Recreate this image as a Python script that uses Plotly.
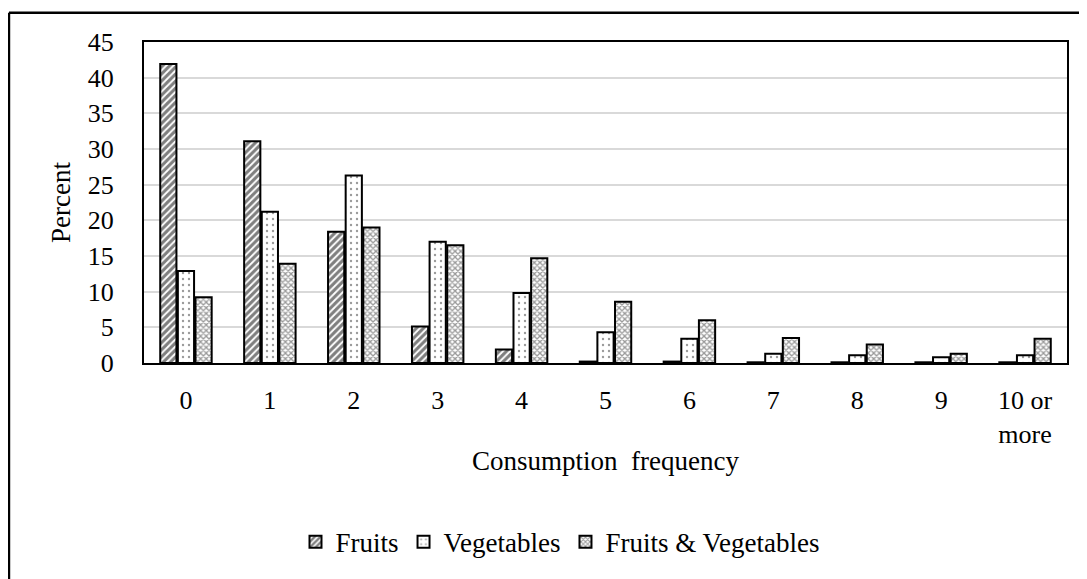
import plotly.graph_objects as go

categories = ["0", "1", "2", "3", "4", "5", "6", "7", "8", "9", "10 or<br>more"]
fruits = [41.9, 31.1, 18.4, 5.1, 1.9, 0.2, 0.2, 0.1, 0.1, 0.1, 0.1]
vegetables = [12.9, 21.2, 26.3, 17.0, 9.8, 4.3, 3.4, 1.3, 1.1, 0.8, 1.1]
fruits_veg = [9.2, 13.9, 19.0, 16.5, 14.7, 8.6, 6.0, 3.5, 2.6, 1.3, 3.4]
y_ticks = [0, 5, 10, 15, 20, 25, 30, 35, 40, 45]

FONT = "Liberation Serif"
FS = 26

fig = go.Figure()
fig.add_trace(go.Bar(
    name="Fruits", x=categories, y=fruits,
    marker=dict(color="white", line=dict(color="black", width=2),
                pattern=dict(shape="/", fgcolor="black", bgcolor="white", size=5, solidity=0.62)),
))
fig.add_trace(go.Bar(
    name="Vegetables", x=categories, y=vegetables,
    marker=dict(color="white", line=dict(color="black", width=2),
                pattern=dict(shape=".", fgcolor="#333333", bgcolor="white", size=6, solidity=0.12)),
))
fig.add_trace(go.Bar(
    name="Fruits & Vegetables", x=categories, y=fruits_veg,
    marker=dict(color="white", line=dict(color="black", width=2),
                pattern=dict(shape="x", fgcolor="#333333", bgcolor="white", size=4, solidity=0.55)),
))

fig.update_layout(
    width=1079, height=571,
    margin=dict(l=136, r=20, t=34, b=207),
    paper_bgcolor="white", plot_bgcolor="white",
    barmode="group", bargap=0.37, bargroupgap=0.08,
    font=dict(family=FONT, size=FS, color="black"),
    showlegend=True,
    legend=dict(orientation="h", x=0.4507, xanchor="center", y=-0.482, yanchor="top",
                font=dict(family=FONT, size=27), itemwidth=30, traceorder="normal"),
    xaxis=dict(
        title=dict(text="Consumption  frequency", font=dict(family=FONT, size=27), standoff=3),
        showline=True, linecolor="black", linewidth=2, mirror=True,
        tickfont=dict(family=FONT, size=FS), ticks="", ticklabelstandoff=13,
    ),
    yaxis=dict(
        title=dict(text="Percent", font=dict(family=FONT, size=27), standoff=9),
        range=[0, 45], tickvals=y_ticks,
        showline=True, linecolor="black", linewidth=2, mirror=True,
        showgrid=True, gridcolor="#d9d9d9", gridwidth=2,
        tickfont=dict(family=FONT, size=FS), ticks="", ticklabelstandoff=23,
        zeroline=False,
    ),
    shapes=[
        dict(type="line", xref="paper", yref="paper", x0=-0.1463, x1=-0.1463, y0=1.0909, y1=-0.7,
             line=dict(color="black", width=2.5)),
        dict(type="line", xref="paper", yref="paper", x0=-0.1463, x1=1.1, y0=1.0909, y1=1.0909,
             line=dict(color="black", width=2.5)),
    ],
)

fig.write_html("out.html")
